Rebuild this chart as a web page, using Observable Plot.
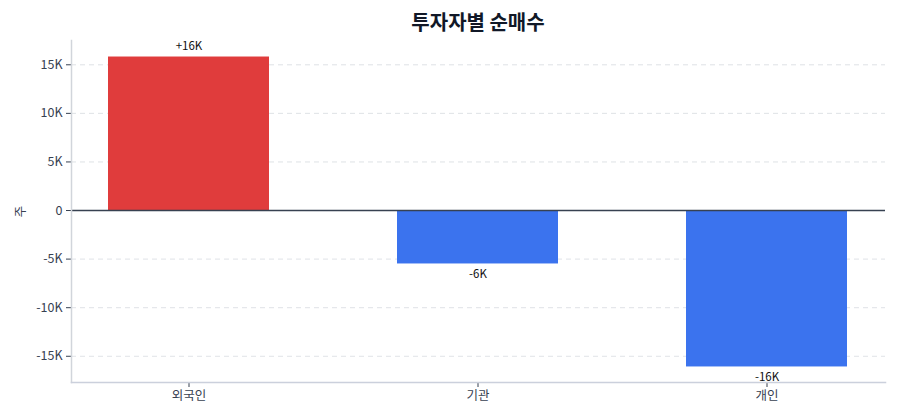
<!DOCTYPE html>
<html><head><meta charset="utf-8">
<script src="https://cdn.jsdelivr.net/npm/d3@7"></script>
<script src="https://cdn.jsdelivr.net/npm/@observablehq/plot@0.6"></script>
<style>
body{margin:0;background:#fff;font-family:"Noto Sans CJK KR","Noto Sans",sans-serif;}
#title{height:36px;box-sizing:border-box;padding:8px 15px 0 71px;text-align:center;font-size:20px;font-weight:700;color:#111827;line-height:28px;}
</style></head>
<body>
<div id="title">투자자별 순매수</div>
<div id="chart"></div>
<script>
const investors = ["외국인", "기관", "개인"];
const netBuy = [15800, -5500, -16100];
const yTicks = [-15000, -10000, -5000, 0, 5000, 10000, 15000];

const data = investors.map((name, i) => ({name, value: netBuy[i]}));
const fmtK = v => v === 0 ? "0" : `${v / 1000}K`;
const lbl = v => (v > 0 ? "+" : "-") + Math.round(Math.abs(v) / 1000) + "K";
const pos = data.filter(d => d.value >= 0);
const neg = data.filter(d => d.value < 0);

const chart = Plot.plot({
  width: 900,
  height: 384,
  marginTop: 4,
  marginBottom: 38,
  marginLeft: 71,
  marginRight: 15,
  style: {fontFamily: '"Noto Sans CJK KR","Noto Sans",sans-serif', fontSize: "12.5px", color: "#374151", background: "#fff"},
  x: {domain: investors, range: [44, 911], paddingInner: 0.443, paddingOuter: 0.2215, label: null, tickSize: 5},
  y: {domain: [-17700, 17500], ticks: yTicks, tickFormat: fmtK, label: "주", labelAnchor: "center", labelArrow: "none", labelOffset: 55, tickSize: 5},
  marks: [
    Plot.gridY(yTicks, {stroke: "#d1d5db", strokeOpacity: 0.7, strokeDasharray: "5,4"}),
    Plot.barY(data, {x: "name", y: "value", fill: d => d.value >= 0 ? "#e03c3c" : "#3b73ee"}),
    Plot.ruleY([0], {stroke: "#374151", strokeWidth: 1.5}),
    Plot.frame({anchor: "left", stroke: "#d1d5db", strokeWidth: 1.5}),
    Plot.frame({anchor: "bottom", stroke: "#cbd0dc", strokeWidth: 1.5}),
    Plot.text(pos, {x: "name", y: "value", text: d => lbl(d.value), dy: -11, fontSize: 11.5, fill: "#111"}),
    Plot.text(neg, {x: "name", y: "value", text: d => lbl(d.value), dy: 10, fontSize: 11.5, fill: "#111"})
  ]
});
document.getElementById("chart").appendChild(chart);
</script>
</body></html>
